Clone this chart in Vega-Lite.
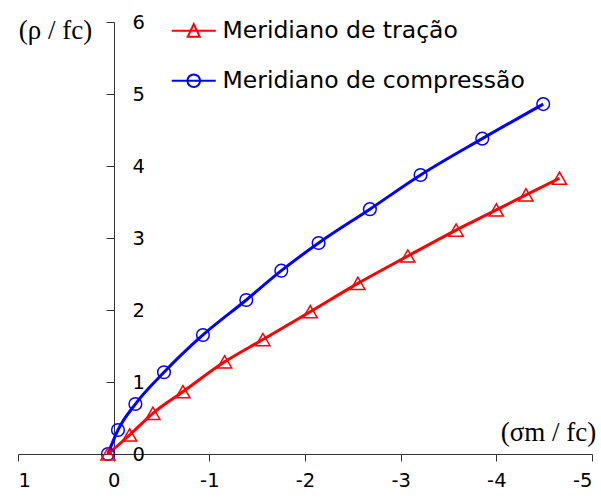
{
  "$schema": "https://vega.github.io/schema/vega-lite/v6.json",
  "width": 574,
  "height": 432,
  "autosize": {"type": "none"},
  "padding": {"left": 18, "top": 22, "right": 9, "bottom": 44},
  "background": "white",
  "config": {
    "view": {"stroke": null},
    "axis": {
      "grid": false,
      "domainColor": "#333333",
      "tickColor": "#333333",
      "labelFont": "DejaVu Sans",
      "labelFontSize": 19.5,
      "labelColor": "black",
      "titleFont": "Liberation Serif",
      "titleFontSize": 27,
      "titleFontWeight": "normal",
      "titleColor": "black"
    }
  },
  "data": {
    "values": [
      {"series": "Meridiano de compressão", "sm": 0.06, "rho": 0.0},
      {"series": "Meridiano de compressão", "sm": -0.045, "rho": 0.333},
      {"series": "Meridiano de compressão", "sm": -0.227, "rho": 0.694},
      {"series": "Meridiano de compressão", "sm": -0.526, "rho": 1.135},
      {"series": "Meridiano de compressão", "sm": -0.933, "rho": 1.653},
      {"series": "Meridiano de compressão", "sm": -1.386, "rho": 2.139},
      {"series": "Meridiano de compressão", "sm": -1.752, "rho": 2.546},
      {"series": "Meridiano de compressão", "sm": -2.142, "rho": 2.93},
      {"series": "Meridiano de compressão", "sm": -2.678, "rho": 3.4},
      {"series": "Meridiano de compressão", "sm": -3.208, "rho": 3.875},
      {"series": "Meridiano de compressão", "sm": -3.853, "rho": 4.38},
      {"series": "Meridiano de compressão", "sm": -4.49, "rho": 4.86},
      {"series": "Meridiano de tração", "sm": 0.06, "rho": 0.0},
      {"series": "Meridiano de tração", "sm": -0.167, "rho": 0.264},
      {"series": "Meridiano de tração", "sm": -0.41, "rho": 0.565},
      {"series": "Meridiano de tração", "sm": -0.724, "rho": 0.865},
      {"series": "Meridiano de tração", "sm": -1.16, "rho": 1.28},
      {"series": "Meridiano de tração", "sm": -1.56, "rho": 1.59},
      {"series": "Meridiano de tração", "sm": -2.055, "rho": 1.976},
      {"series": "Meridiano de tração", "sm": -2.553, "rho": 2.37},
      {"series": "Meridiano de tração", "sm": -3.075, "rho": 2.75},
      {"series": "Meridiano de tração", "sm": -3.58, "rho": 3.11},
      {"series": "Meridiano de tração", "sm": -4.0, "rho": 3.39},
      {"series": "Meridiano de tração", "sm": -4.31, "rho": 3.6},
      {"series": "Meridiano de tração", "sm": -4.66, "rho": 3.83}
    ]
  },
  "encoding": {
    "x": {
      "field": "sm",
      "type": "quantitative",
      "scale": {"domain": [-5, 1], "reverse": true, "nice": false, "zero": false},
      "axis": {
        "values": [1, 0, -1, -2, -3, -4, -5],
        "labelExpr": "'' + datum.value",
        "tickSize": 7,
        "labelPadding": 10,
        "title": "(σm / fc)",
        "titleX": 530,
        "titleY": -22,
        "titleAlign": "center",
        "titleBaseline": "middle"
      }
    },
    "y": {
      "field": "rho",
      "type": "quantitative",
      "scale": {"domain": [0, 6], "nice": false, "zero": false},
      "axis": {
        "values": [0, 1, 2, 3, 4, 5, 6],
        "offset": -96,
        "tickSize": 8,
        "labelAlign": "left",
        "labelPadding": -26,
        "labelBaseline": "middle",
        "title": "(ρ / fc)",
        "titleAngle": 0,
        "titleX": -59,
        "titleY": 8,
        "titleAlign": "center",
        "titleBaseline": "middle"
      }
    },
    "color": {
      "field": "series",
      "type": "nominal",
      "scale": {"domain": ["Meridiano de tração", "Meridiano de compressão"], "range": ["#ff0000", "#0000ff"]},
      "legend": {
        "orient": "none",
        "legendX": 164,
        "legendY": -3,
        "title": null,
        "padding": 0,
        "labelFont": "DejaVu Sans",
        "labelFontSize": 23.5,
        "labelColor": "black",
        "labelLimit": 400,
        "symbolSize": 144,
        "labelOffset": 17,
        "rowPadding": 25,
        "encode": {
          "symbols": {
            "update": {
              "shape": {"signal": "datum.index === 0 ? 'M-3.67,0L3.67,0M0,-1.1L-1,1L1,1Z' : 'M-3.67,0L3.67,0M1.05,0A1.05,1.05,0,1,1,-1.05,0A1.05,1.05,0,1,1,1.05,0Z'"},
              "fill": {"value": "transparent"},
              "strokeWidth": {"value": 2},
              "opacity": {"value": 1}
            }
          }
        }
      }
    }
  },
  "layer": [
    {
      "mark": {"type": "line", "interpolate": "monotone", "strokeWidth": 3}
    },
    {
      "transform": [{"filter": "datum.series === 'Meridiano de compressão'"}],
      "mark": {"type": "point", "shape": "circle", "filled": false, "size": 160, "strokeWidth": 1.5, "opacity": 1}
    },
    {
      "transform": [{"filter": "datum.series === 'Meridiano de tração'"}],
      "mark": {"type": "point", "shape": "triangle-up", "filled": false, "size": 200, "strokeWidth": 1.5, "opacity": 1}
    }
  ]
}
